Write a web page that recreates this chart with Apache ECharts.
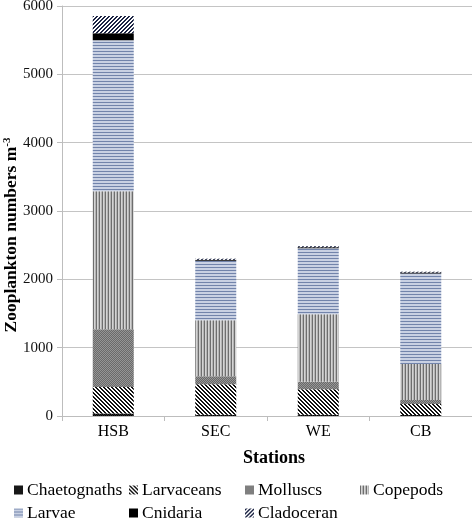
<!DOCTYPE html>
<html>
<head>
<meta charset="utf-8">
<script src="https://cdn.jsdelivr.net/npm/echarts@6/dist/echarts.min.js"></script>
<style>
html,body{margin:0;padding:0;background:#fff;}
#chart{width:472px;height:521px;}
</style>
</head>
<body>
<div id="chart"></div>
<script>
var categories = ['HSB', 'SEC', 'WE', 'CB'];
var seriesNames = ['Chaetognaths', 'Larvaceans', 'Molluscs', 'Copepods', 'Larvae', 'Cnidaria', 'Cladoceran'];
var chaetognaths = [35, 20, 20, 15];
var larvaceans = [390, 445, 370, 160];
var molluscs = [845, 117, 110, 60];
var copepods = [2020, 820, 990, 525];
var larvae = [2210, 870, 965, 1325];
var cnidaria = [100, 15, 15, 15];
var cladoceran = [255, 15, 15, 10];
var yTicks = [0, 1000, 2000, 3000, 4000, 5000, 6000];

function makePattern(w, h, fn) {
  var c = document.createElement('canvas');
  c.width = w; c.height = h;
  var ctx = c.getContext('2d');
  for (var y = 0; y < h; y++) {
    for (var x = 0; x < w; x++) {
      ctx.fillStyle = fn(x, y);
      ctx.fillRect(x, y, 1, 1);
    }
  }
  return {image: c, repeat: 'repeat'};
}

var patterns = [
  makePattern(2, 2, function (x, y) { return ((x + y) % 2) ? '#2a2a2a' : '#050505'; }),
  makePattern(4, 4, function (x, y) { return (((x - y) % 4 + 4) % 4 < 2) ? '#111111' : '#ffffff'; }),
  makePattern(2, 2, function (x, y) { return ((x + y) % 2) ? '#6a6a6a' : '#959595'; }),
  makePattern(3, 1, function (x, y) { return x === 0 ? '#6e6e6e' : (x === 1 ? '#d4d4d4' : '#b4b4b4'); }),
  makePattern(1, 3, function (x, y) { return y === 0 ? '#7284ab' : '#c9d1e3'; }),
  '#000000',
  makePattern(4, 4, function (x, y) { return ((x + y) % 4 < 2) ? '#1c2444' : '#ffffff'; })
];

var dataSets = [chaetognaths, larvaceans, molluscs, copepods, larvae, cnidaria, cladoceran];
var fontFam = '"Liberation Serif", "Times New Roman", serif';

var series = seriesNames.map(function (n, i) {
  return {
    name: n,
    type: 'bar',
    stack: 'total',
    barWidth: 41,
    data: dataSets[i],
    itemStyle: {color: patterns[i]},
    emphasis: {disabled: true}
  };
});

var legendPos = [
  [14, 481], [129, 481], [245, 481], [360, 481],
  [14, 504], [129, 504], [245, 504]
];
var legends = seriesNames.map(function (n, i) {
  return {
    data: [n],
    left: legendPos[i][0],
    top: legendPos[i][1],
    padding: 0,
    itemWidth: 9,
    itemHeight: 9,
    itemGap: 0,
    icon: 'rect',
    selectedMode: false,
    textStyle: {fontSize: 17.5, fontFamily: fontFam, color: '#000', padding: [0, 0, 0, -1]}
  };
});

var chart = echarts.init(document.getElementById('chart'), null, {renderer: 'canvas'});
chart.setOption({
  animation: false,
  backgroundColor: '#ffffff',
  textStyle: {fontFamily: fontFam},
  grid: {left: 62, right: 0, top: 6, bottom: 105, containLabel: false, outerBoundsMode: 'none'},
  legend: legends,
  xAxis: {
    type: 'category',
    data: categories,
    name: 'Stations',
    nameLocation: 'middle',
    nameGap: 33,
    nameMoveOverlap: false,
    nameTextStyle: {fontSize: 18, fontWeight: 'bold', color: '#000', fontFamily: fontFam, padding: [0, 0, 0, 14]},
    axisLine: {show: true, lineStyle: {color: '#bdbdbd', width: 1}},
    axisTick: {show: true, length: 5, lineStyle: {color: '#bdbdbd'}},
    axisLabel: {fontSize: 16, color: '#000', fontFamily: fontFam, margin: 8}
  },
  yAxis: {
    type: 'value',
    min: yTicks[0],
    max: yTicks[yTicks.length - 1],
    interval: 1000,
    name: '{a|Zooplankton numbers m}{s|-3}',
    nameLocation: 'middle',
    nameGap: 42,
    nameMoveOverlap: false,
    nameTextStyle: {
      padding: [0, 48, 0, 0],
      rich: {
        a: {fontSize: 17.5, fontWeight: 'bold', color: '#000', fontFamily: fontFam},
        s: {fontSize: 11, fontWeight: 'bold', color: '#000', fontFamily: fontFam, verticalAlign: 'top'}
      }
    },
    axisLine: {show: true, lineStyle: {color: '#bdbdbd', width: 1}},
    axisTick: {show: true, length: 5, lineStyle: {color: '#bdbdbd'}},
    axisLabel: {fontSize: 15, color: '#111', fontFamily: fontFam, margin: 9, formatter: function (v) { return String(v); }},
    splitLine: {show: true, lineStyle: {color: '#c4c4c4', width: 1}}
  },
  series: series
});
</script>
</body>
</html>
